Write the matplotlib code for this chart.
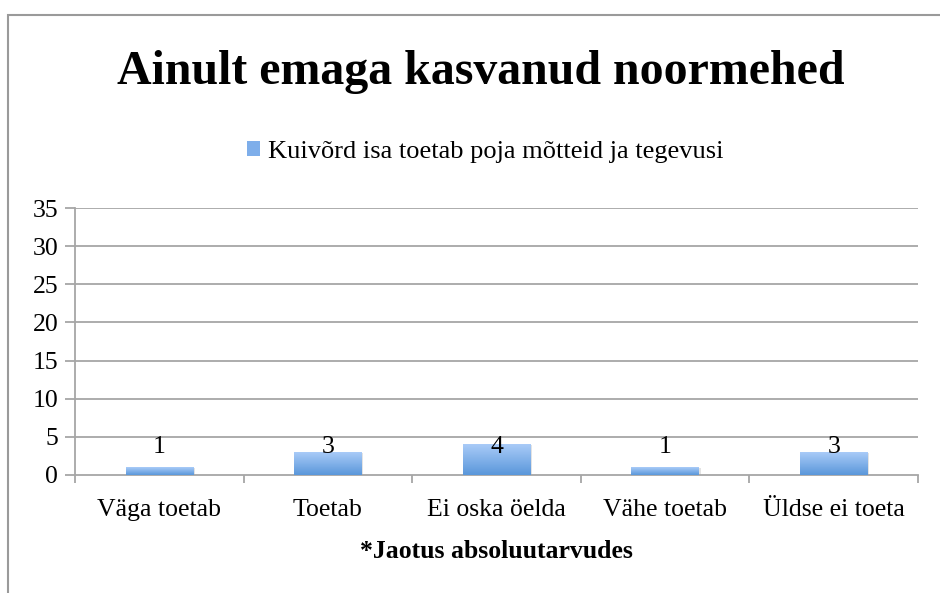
import matplotlib.pyplot as plt
import matplotlib.patches as mpatches
from matplotlib.colors import LinearSegmentedColormap
import numpy as np

plt.rcParams['font.family'] = ['Liberation Serif', 'DejaVu Serif']

categories = ['Väga toetab', 'Toetab', 'Ei oska öelda', 'Vähe toetab', 'Üldse ei toeta']
values = [1, 3, 4, 1, 3]
series_name = 'Kuivõrd isa toetab poja mõtteid ja tegevusi'
title = 'Ainult emaga kasvanud noormehed'
xlabel = '*Jaotus absoluutarvudes'
yticks = [0, 5, 10, 15, 20, 25, 30, 35]

grid_col = '#a6a6a6'
fs = 18.5
fig = plt.figure(figsize=(9.4, 5.93), dpi=100)
ax = fig.add_axes([0.0798, 0.199, 0.8968, 0.4502])

# outer chart border (cut by the image on right and bottom)
fig.add_artist(mpatches.Rectangle((8 / 940, -0.05), 1.0, 1 - 15 / 593 + 0.05,
                                  transform=fig.transFigure, fill=False,
                                  edgecolor='#9a9a9a', lw=1.5))

x = np.arange(len(categories))
bar_w = 0.4
# gradient bars
grad = np.linspace(0, 1, 100).reshape(-1, 1)
cmap = LinearSegmentedColormap.from_list('bar', ['#5a97da', '#a9cbf8'])
for xi, v in zip(x, values):
    # soft shadow
    ax.add_patch(mpatches.Rectangle((xi - bar_w / 2 + 0.01, -0.08), bar_w, v,
                                    color='#c8c8c8', alpha=0.5, lw=0, zorder=2))
    ax.imshow(grad, cmap=cmap, aspect='auto', origin='lower',
              extent=(xi - bar_w / 2, xi + bar_w / 2, 0, v), zorder=3)
    ax.text(xi, 3.7, str(v), ha='center', va='center', fontsize=fs, zorder=4)

ax.set_xlim(-0.5, len(categories) - 0.5)
ax.set_ylim(0, 35)
ax.set_yticks(yticks)
ax.set_yticklabels([str(t) for t in yticks], fontsize=fs)
ax.set_xticks(x)
ax.set_xticklabels(categories, fontsize=fs)
ax.set_xticks(np.arange(-0.5, len(categories)), minor=True)
ax.tick_params(axis='x', which='major', length=0, pad=17)
ax.tick_params(axis='x', which='minor', length=6, color=grid_col, width=1.3)
ax.tick_params(axis='y', length=7, color=grid_col, width=1.3, pad=5)
for t in yticks[1:]:
    ax.axhline(t, color=grid_col, lw=1.3, zorder=1)
for s in ['top', 'right']:
    ax.spines[s].set_visible(False)
for s in ['left', 'bottom']:
    ax.spines[s].set_color(grid_col)
    ax.spines[s].set_linewidth(1.3)

ax.set_xlabel(xlabel, fontsize=fs, fontweight='bold', labelpad=14)

fig.text(0.511, 1 - 72 / 593, title, ha='center', va='center',
         fontsize=34.5, fontweight='bold')

handle = mpatches.Patch(facecolor='#7eaeea', edgecolor='none')
fig.legend([handle], [series_name], loc='center', bbox_to_anchor=(0.516, 1 - 152 / 593),
           frameon=False, fontsize=19, handlelength=0.5, handleheight=0.5,
           handletextpad=0.3)

fig.savefig('out.png', dpi=100)
